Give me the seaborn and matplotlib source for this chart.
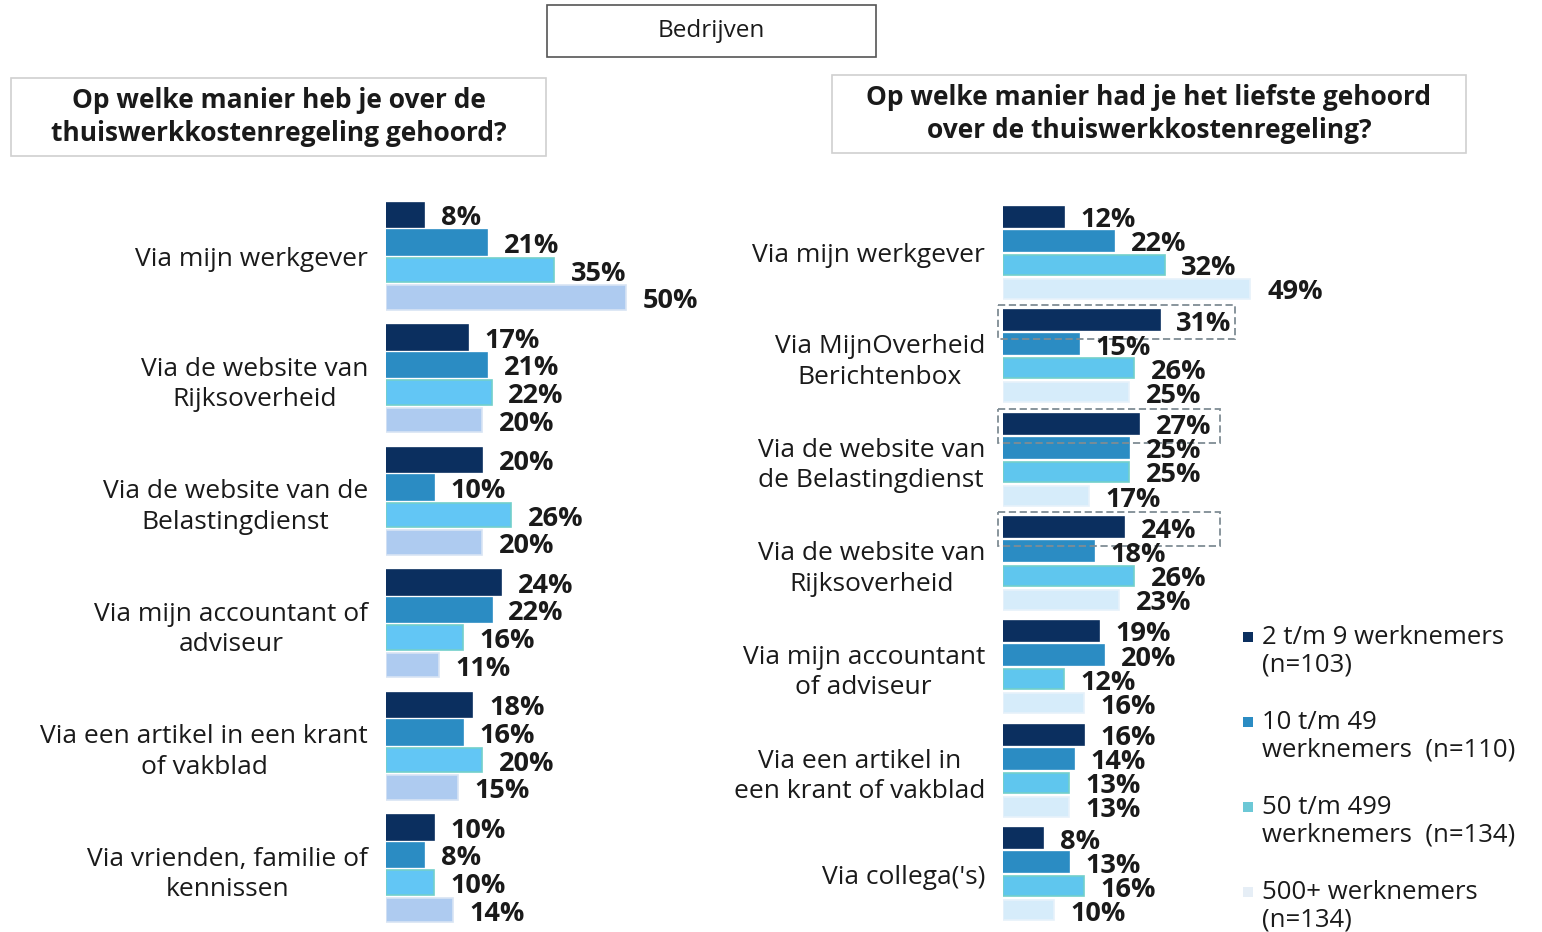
import pandas as pd
import matplotlib.pyplot as plt
import seaborn as sns
from matplotlib.patches import Rectangle

# groepen (bedrijfsgrootte)
groepen = ['2 t/m 9', '10 t/m 49', '50 t/m 499', '500+']
legenda_labels = ['2 t/m 9 werknemers\n(n=103)', '10 t/m 49\nwerknemers  (n=110)',
                  '50 t/m 499\nwerknemers  (n=134)', '500+ werknemers\n(n=134)']

# links: hoe gehoord
links_cat = ['Via mijn werkgever', 'Via de website van\nRijksoverheid',
             'Via de website van de\nBelastingdienst', 'Via mijn accountant of\nadviseur',
             'Via een artikel in een krant\nof vakblad', 'Via vrienden, familie of\nkennissen']
links_2_9 = [8, 17, 20, 24, 18, 10]
links_10_49 = [21, 21, 10, 22, 16, 8]
links_50_499 = [35, 22, 26, 16, 20, 10]
links_500 = [50, 20, 20, 11, 15, 14]

# rechts: liefst gehoord
rechts_cat = ['Via mijn werkgever', 'Via MijnOverheid\nBerichtenbox',
              'Via de website van\nde Belastingdienst', 'Via de website van\nRijksoverheid',
              'Via mijn accountant\nof adviseur', 'Via een artikel in\neen krant of vakblad',
              "Via collega('s)"]
rechts_2_9 = [12, 31, 27, 24, 19, 16, 8]
rechts_10_49 = [22, 15, 25, 18, 20, 14, 13]
rechts_50_499 = [32, 26, 25, 26, 12, 13, 16]
rechts_500 = [49, 25, 17, 23, 16, 13, 10]
rechts_gemarkeerd = [1, 2, 3]

W, H = 1542, 932


def lang(cats, reeksen):
    rijen = []
    for groep, waarden in zip(groepen, reeksen):
        for c, v in zip(cats, waarden):
            rijen.append({'categorie': c, 'groep': groep, 'pct': v})
    return pd.DataFrame(rijen)


df_links = lang(links_cat, [links_2_9, links_10_49, links_50_499, links_500])
df_rechts = lang(rechts_cat, [rechts_2_9, rechts_10_49, rechts_50_499, rechts_500])

sns.set_theme(style='white')
plt.rcParams['font.family'] = ['Open Sans', 'DejaVu Sans']

fig = plt.figure(figsize=(W / 100, H / 100), dpi=100)


def px_ax(x0, y_top, y_bot, xmax, px_per):
    return fig.add_axes([x0 / W, 1 - y_bot / H, xmax * px_per / W, (y_bot - y_top) / H])


def teken(ax, df, cats, kleuren, randen, breedte, gap):
    sns.barplot(data=df, y='categorie', x='pct', hue='groep', order=cats, hue_order=groepen,
                palette=kleuren, orient='h', width=breedte, gap=gap, saturation=1,
                legend=False, ax=ax)
    for cont, rand in zip(ax.containers, randen):
        for bar in cont:
            bar.set_edgecolor(rand)
            bar.set_linewidth(1.2)
        teksten = ax.bar_label(cont, labels=[f'{b.get_width():.0f}%' for b in cont], padding=12,
                               fontsize=19.5, fontweight='bold', color='#1a1a1a')
        for t in teksten:
            t.xyann = (12, -2.5)
    ax.set_xlim(0, 60)
    ax.set_xticks([])
    ax.set_xlabel('')
    ax.set_ylabel('')
    ax.tick_params(axis='y', length=0, pad=13, labelsize=19, labelcolor='#1a1a1a')
    for t in ax.get_yticklabels():
        t.set_multialignment('center')
        t.set_linespacing(1.28)
    for s in ax.spines.values():
        s.set_visible(False)
    ax.patch.set_alpha(0)


ax1 = px_ax(386, 195, 930, 60, 4.8)
teken(ax1, df_links, links_cat, ['#0B2F5F', '#2B8CC3', '#62C6F5', '#AECBF0'],
      ['#0B2F5F', '#2B8CC3', '#72CFCB', '#D8E4F4'], 0.9, 0.12)

ax2 = px_ax(1003, 201, 926, 60, 5.05)
teken(ax2, df_rechts, rechts_cat, ['#0B2F5F', '#2B8CC3', '#5FC6EE', '#D6ECFA'],
      ['#0B2F5F', '#2B8CC3', '#72CFCB', '#E6F1FA'], 0.93, 0.17)

# gestippelde kaders rond de hoogste scores
for i in rechts_gemarkeerd:
    bar = ax2.containers[0][i]
    v = bar.get_width()
    h = bar.get_height()
    ax2.add_patch(Rectangle((-1, bar.get_y() - 0.05), max(v + 15, 43) + 1, h + 0.135,
                            fill=False, ec='#7f8c94', ls=(0, (4, 2)), lw=1.3, clip_on=False))

# titelkaders
def kader(x0, y0, x1, y1, tekst, rand, **kw):
    fig.add_artist(Rectangle((x0 / W, 1 - y1 / H), (x1 - x0) / W, (y1 - y0) / H,
                             transform=fig.transFigure, fill=False, ec=rand, lw=1.2))
    fig.text((x0 + x1) / 2 / W, 1 - (y0 + y1) / 2 / H, tekst, ha='center', va='center',
             multialignment='center', color='#1a1a1a', **kw)


kader(547, 5, 876, 57, 'Bedrijven', '#555555', fontsize=17.5)
kader(11, 78, 546, 156, 'Op welke manier heb je over de\nthuiswerkkostenregeling gehoord?',
      '#d0d0d0', fontsize=19, fontweight='bold', linespacing=1.25)
kader(832, 75, 1466, 153, 'Op welke manier had je het liefste gehoord\nover de thuiswerkkostenregeling?',
      '#d0d0d0', fontsize=19, fontweight='bold', linespacing=1.25)

# legenda
leg_kleuren = ['#0B2F5F', '#2B8CC3', '#6CC8D6', '#E6EEF6']
for i, (lab, kl) in enumerate(zip(legenda_labels, leg_kleuren)):
    yc = 637 + i * 85
    fig.add_artist(Rectangle((1243 / W, 1 - (yc + 5) / H), 10 / W, 10 / H,
                             transform=fig.transFigure, fc=kl, ec='none'))
    fig.text(1262 / W, 1 - (yc - 12) / H, lab, ha='left', va='top', fontsize=18.5,
             color='#1a1a1a', linespacing=1.15)

fig.savefig('out.png', dpi=100, facecolor='white')
